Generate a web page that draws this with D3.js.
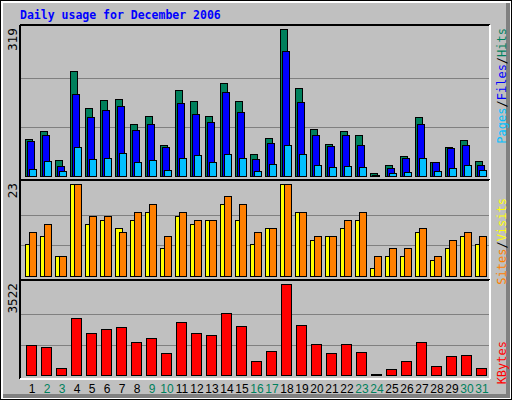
<!DOCTYPE html>
<html><head><meta charset="utf-8">
<script src="https://cdn.jsdelivr.net/npm/d3@7"></script>
<style>body{margin:0;background:#fff}</style>
</head><body>
<script>
// daily values
var days = d3.range(1, 32)
var weekend = [2, 3, 9, 10, 16, 17, 23, 24, 30, 31]
var hits   = [81,98,34,228,147,164,168,113,130,68,187,162,130,202,162,47,83,319,190,102,70,98,90,6,23,43,128,30,64,79,32]
var files  = [75,90,21,177,128,143,151,100,113,62,158,134,117,183,138,36,72,272,160,90,66,90,68,3,17,38,113,30,60,68,23]
var pages  = [15,32,11,64,36,40,49,30,34,13,38,45,30,47,38,11,26,68,47,23,19,21,19,1,6,9,38,11,17,23,13]
var visits = [8,10,5,23,13,14,12,14,16,7,15,13,14,18,14,8,12,23,16,9,10,12,14,2,5,5,11,4,7,10,8]
var sites  = [11,13,5,23,15,15,11,16,18,10,16,14,14,20,18,11,12,23,16,10,10,14,16,5,7,7,12,5,9,11,10]
var kbytes = [1161,1084,271,2206,1626,1780,1858,1277,1432,851,2051,1626,1548,2400,1896,542,929,3522,1935,1200,851,1200,890,30,232,542,1277,348,735,774,271]

var svg = d3.select('body').append('svg').attr('width', 512).attr('height', 400)
  .style('font-family', 'DejaVu Sans Mono')

// frame
svg.append('rect').attr('x', 0).attr('y', 0).attr('width', 512).attr('height', 400).attr('fill', '#000')
svg.append('rect').attr('x', 1).attr('y', 1).attr('width', 510).attr('height', 398).attr('fill', '#fff')
svg.append('rect').attr('x', 3).attr('y', 3).attr('width', 507).attr('height', 395).attr('fill', '#808080')
svg.append('rect').attr('x', 3).attr('y', 3).attr('width', 503).attr('height', 391).attr('fill', '#c0c0c0')

svg.append('text').attr('x', 20).attr('y', 19).text('Daily usage for December 2006')
  .attr('fill', '#0000ff').attr('font-size', 11.5).attr('font-weight', 'bold')

var x = d3.scaleLinear().domain([1, 31]).range([25, 475])

function panel(y0, y1, max, label) {
  svg.append('line').attr('x1', 20).attr('x2', 490).attr('y1', y0).attr('y2', y0).attr('stroke', '#000').attr('stroke-width', 2)
  svg.append('line').attr('x1', 20).attr('x2', 20).attr('y1', y0).attr('y2', y1).attr('stroke', '#000').attr('stroke-width', 2)
  svg.append('line').attr('x1', 20).attr('x2', 490).attr('y1', y1).attr('y2', y1).attr('stroke', '#fff').attr('stroke-width', 2)
  svg.append('line').attr('x1', 490).attr('x2', 490).attr('y1', y0).attr('y2', y1).attr('stroke', '#fff').attr('stroke-width', 2)
  var base = y1 - 4
  var y = d3.scaleLinear().domain([0, max]).range([base, y0 + 4])
  ;[max / 3, max * 2 / 3].forEach(function(v) {
    svg.append('line').attr('x1', 21).attr('x2', 489).attr('y1', Math.round(y(v)) + 0.5).attr('y2', Math.round(y(v)) + 0.5)
      .attr('stroke', '#808080')
  })
  svg.append('text').attr('transform', 'translate(17,' + (y0 + 3) + ') rotate(-90)')
    .attr('text-anchor', 'end').attr('font-size', 12).attr('font-family', 'DejaVu Sans').text(label)
  return y
}

function bars(y, data, dx, w, color) {
  svg.append('g').selectAll('rect').data(data).enter().append('rect')
    .attr('x', function(d, i) { return x(i + 1) + dx + 0.5 })
    .attr('y', function(d) { return Math.round(y(d)) + 0.5 })
    .attr('width', w)
    .attr('height', function(d) { return Math.max(0, Math.round(y(0)) - Math.round(y(d))) })
    .attr('fill', color).attr('stroke', '#000')
}

var y1 = panel(25, 180, 319, '319')
bars(y1, hits, 0, 7, '#00805c')
bars(y1, files, 2, 7, '#0000ff')
bars(y1, pages, 4, 7, '#00c0ff')

var y2 = panel(180, 280, 23, '23')
bars(y2, visits, 0, 7, '#ffff00')
bars(y2, sites, 4, 7, '#ff8000')

var y3 = panel(280, 379, 3522, '3522')
bars(y3, kbytes, 1, 10, '#ff0000')

svg.append('g').selectAll('text').data(days).enter().append('text')
  .attr('x', function(d) { return x(d) + 7 })
  .attr('y', 393).attr('text-anchor', 'middle').attr('font-size', 12).attr('font-family', 'Liberation Sans')
  .attr('fill', function(d) { return weekend.indexOf(d) >= 0 ? '#00805c' : '#000' })
  .text(function(d) { return d })

function sideLabel(yt, parts) {
  var t = svg.append('text').attr('transform', 'translate(506,' + yt + ') rotate(-90)')
    .attr('font-size', 12).attr('text-anchor', 'end')
  parts.forEach(function(p) { t.append('tspan').attr('fill', p[1]).text(p[0]) })
}
sideLabel(28, [['Pages', '#00c0ff'], ['/', '#000'], ['Files', '#0000ff'], ['/', '#000'], ['Hits', '#00805c']])
sideLabel(198, [['Sites', '#ff8000'], ['/', '#000'], ['Visits', '#ffff00']])
sideLabel(341, [['KBytes', '#ff0000']])
</script>
</body></html>
